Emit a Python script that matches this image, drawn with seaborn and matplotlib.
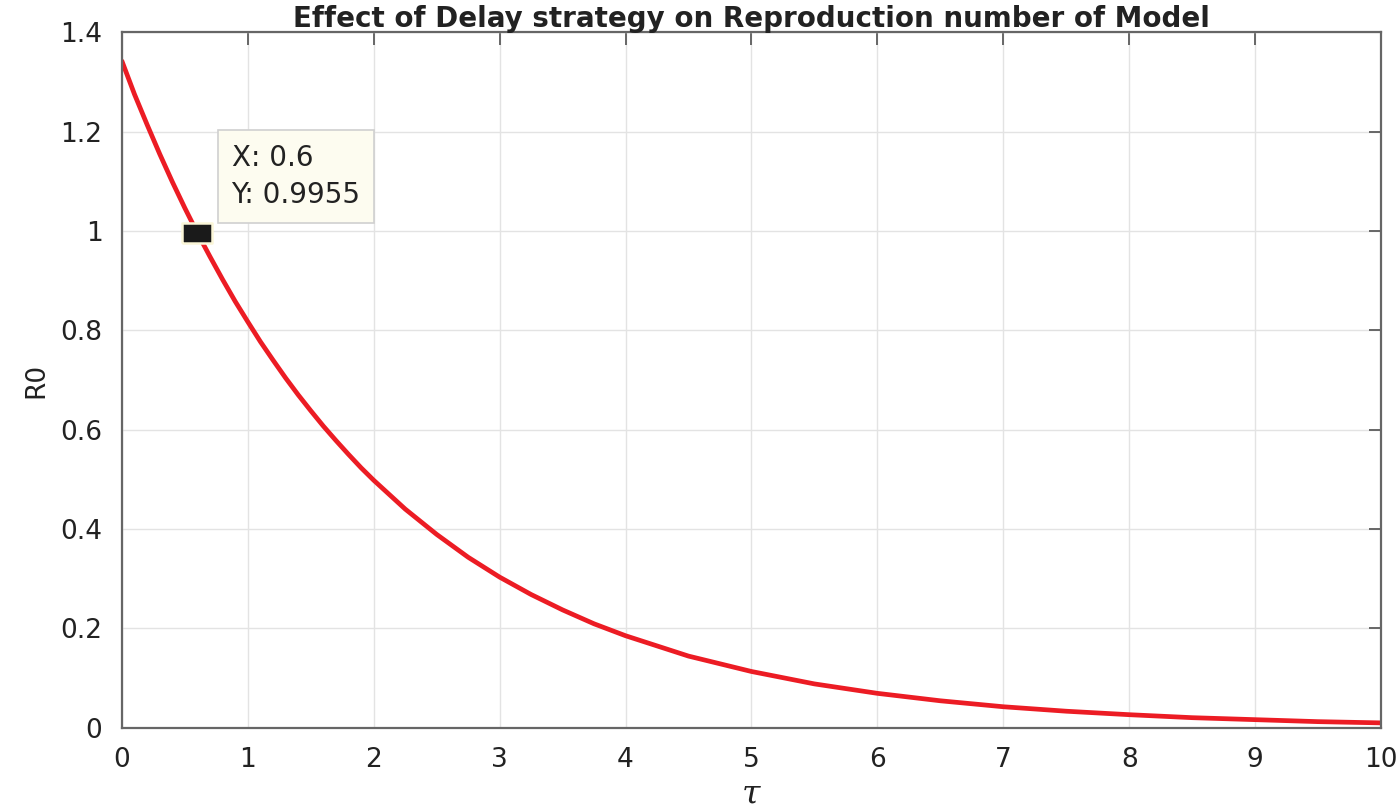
import numpy as np
import pandas as pd
import matplotlib
matplotlib.use("Agg")
import matplotlib.pyplot as plt
import seaborn as sns

# values
tau = [0.0, 0.1, 0.2, 0.3, 0.4, 0.5, 0.6, 0.7, 0.8, 0.9, 1.0,
       1.1, 1.2, 1.3, 1.4, 1.5, 1.6, 1.7, 1.8, 1.9, 2.0,
       2.25, 2.5, 2.75, 3.0, 3.25, 3.5, 3.75, 4.0, 4.5, 5.0, 5.5,
       6.0, 6.5, 7.0, 7.5, 8.0, 8.5, 9.0, 9.5, 10.0]
r0 = [1.342, 1.275, 1.214, 1.155, 1.099, 1.046, 0.9955, 0.948, 0.902, 0.858, 0.817,
      0.777, 0.740, 0.704, 0.670, 0.638, 0.607, 0.578, 0.550, 0.523, 0.498,
      0.440, 0.389, 0.343, 0.303, 0.268, 0.237, 0.209, 0.185, 0.144, 0.113, 0.088,
      0.069, 0.054, 0.042, 0.033, 0.026, 0.020, 0.016, 0.012, 0.0095]

tip_x = 0.6
tip_y = 0.9955

x_ticks = [0, 1, 2, 3, 4, 5, 6, 7, 8, 9, 10]
y_ticks = [0, 0.2, 0.4, 0.6, 0.8, 1.0, 1.2, 1.4]
y_tick_labels = ["0", "0.2", "0.4", "0.6", "0.8", "1", "1.2", "1.4"]

df = pd.DataFrame({"tau": tau, "R0": r0})

sns.set_style("whitegrid")
plt.rcParams["font.family"] = ["DejaVu Sans"]
plt.rcParams["mathtext.fontset"] = "dejavuserif"

fig = plt.figure(figsize=(14, 8.08), dpi=100)
ax = fig.add_axes([0.0871, 0.0995, 0.8993, 0.8605])

sns.lineplot(data=df, x="tau", y="R0", ax=ax, color="#ec1c24", linewidth=3.4)

# data tip marker (rectangular black marker with light edge)
rect = [(-1.4, -1), (1.4, -1), (1.4, 1), (-1.4, 1), (-1.4, -1)]
ax.plot([tip_x], [tip_y], marker=rect, markersize=21, color="#1a1a1a",
        markeredgecolor="#fbf6d8", markeredgewidth=1.8, zorder=5)
ax.annotate(f"X: {tip_x:g}\nY: {tip_y:g}", xy=(tip_x, tip_y),
            xytext=(24.5, 17.5), textcoords="offset points",
            fontsize=20, color="#222222", va="bottom", ha="left",
            linespacing=1.4,
            bbox=dict(boxstyle="square,pad=0.5", fc="#fdfcf0",
                      ec="#d0d0d0", lw=1.2), zorder=6)

ax.set_xlim(0, 10)
ax.set_ylim(0, 1.4)
ax.set_xticks(x_ticks)
ax.set_yticks(y_ticks)
ax.set_yticklabels(y_tick_labels)

ax.grid(True, color="#e3e3e3", linewidth=1.0)
for s in ax.spines.values():
    s.set_visible(True)
    s.set_color("#666666")
    s.set_linewidth(1.6)
ax.tick_params(direction="in", length=9, width=1.4, color="#666666",
               top=True, right=True, labelsize=19, labelcolor="#222222",
               pad=14)

ax.set_title("Effect of Delay strategy on Reproduction number of Model",
             fontsize=20, fontweight="bold", color="#222222", pad=4)
ax.set_xlabel(r"$\tau$", fontsize=24, color="#222222", labelpad=3)
ax.set_ylabel("R0", fontsize=19, color="#222222", labelpad=8)

fig.savefig("out.png", dpi=100)
